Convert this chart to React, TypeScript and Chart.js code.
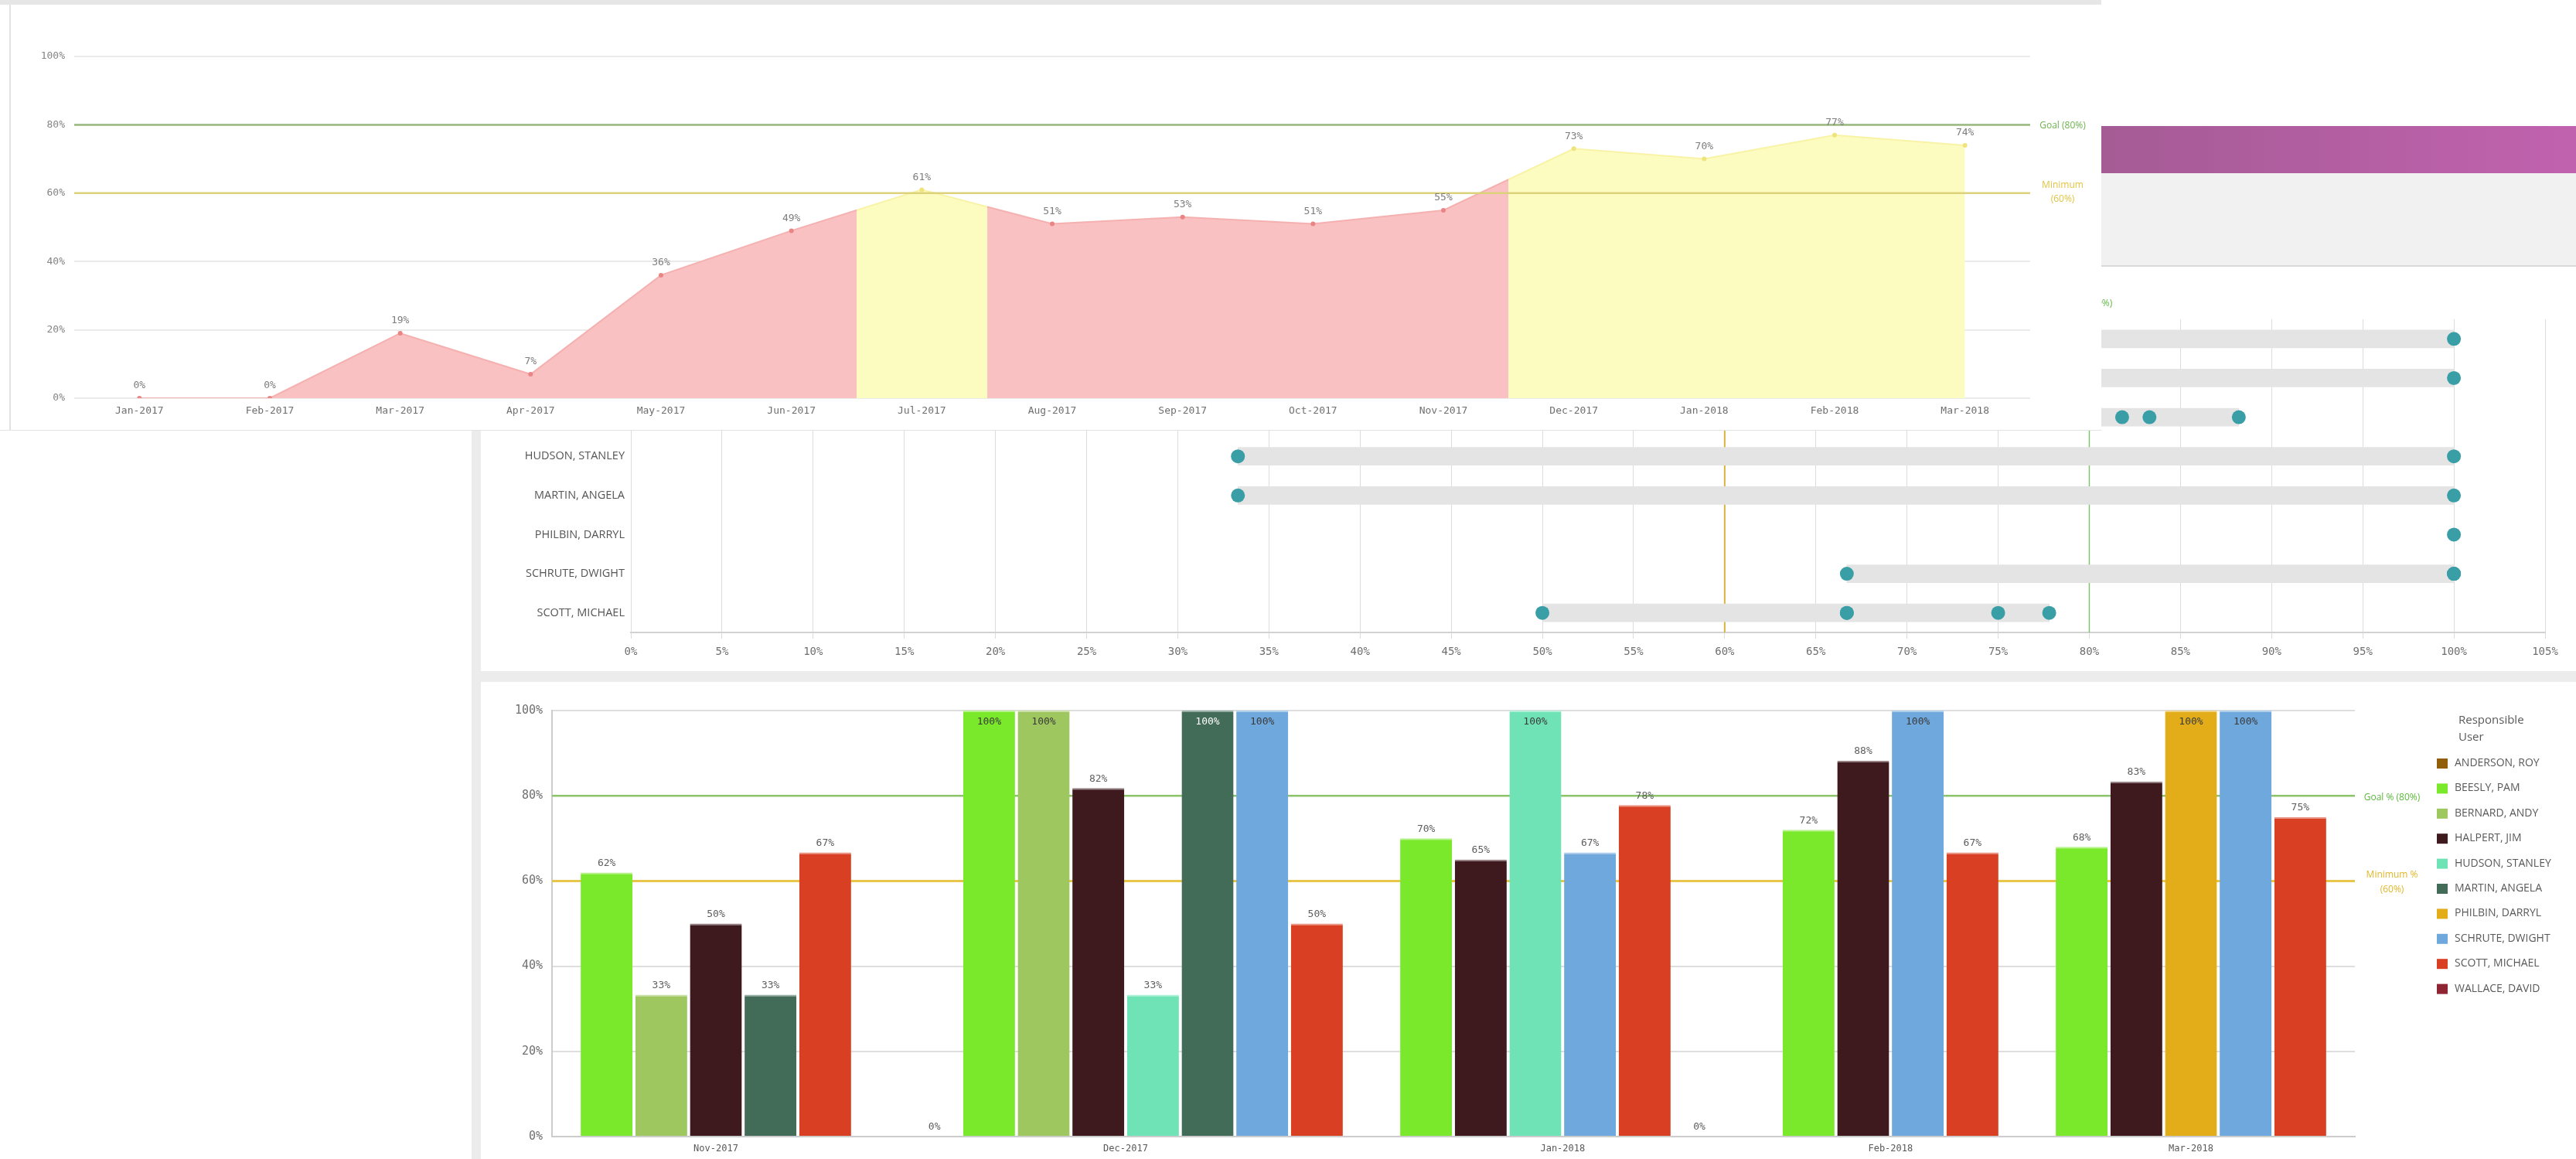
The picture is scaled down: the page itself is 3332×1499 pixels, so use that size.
import React, { useEffect, useRef } from 'react';
import { Chart, registerables } from 'chart.js';

Chart.register(...registerables);

const FONT = '"Open Sans", "Noto Sans", "DejaVu Sans", sans-serif';
const MONO = '"DejaVu Sans Mono", "Liberation Mono", monospace';
Chart.defaults.font.family = FONT;

// ---------- Panel A: monthly trend ----------
const trendMonths = ['Jan-2017', 'Feb-2017', 'Mar-2017', 'Apr-2017', 'May-2017', 'Jun-2017', 'Jul-2017', 'Aug-2017', 'Sep-2017', 'Oct-2017', 'Nov-2017', 'Dec-2017', 'Jan-2018', 'Feb-2018', 'Mar-2018'];
const trendValues = [0, 0, 19, 7, 36, 49, 61, 51, 53, 51, 55, 73, 70, 77, 74];
const GOAL_PCT = 80;
const MIN_PCT = 60;

// ---------- Panel C: per user per month ----------
const barMonths = ['Nov-2017', 'Dec-2017', 'Jan-2018', 'Feb-2018', 'Mar-2018'];
const userNames = ['ANDERSON, ROY', 'BEESLY, PAM', 'BERNARD, ANDY', 'HALPERT, JIM', 'HUDSON, STANLEY', 'MARTIN, ANGELA', 'PHILBIN, DARRYL', 'SCHRUTE, DWIGHT', 'SCOTT, MICHAEL', 'WALLACE, DAVID'];
const userColors = ['#915f0c', '#7ae82b', '#9fc75f', '#3e1a1f', '#70e3b6', '#426b58', '#e2ad19', '#6fa8dc', '#d93f22', '#8f2433'];
const andersonRoy = [null, 0, null, null, null];
const beeslyPam = [62, 100, 70, 72, 68];
const bernardAndy = [33.3, 100, null, null, null];
const halpertJim = [50, 81.8, 65, 88.2, 83.3];
const hudsonStanley = [null, 33.3, 100, null, null];
const martinAngela = [33.3, 100, null, null, null];
const philbinDarryl = [null, null, null, null, 100];
const schruteDwight = [null, 100, 66.7, 100, 100];
const scottMichael = [66.7, 50, 77.8, 66.7, 75];
const wallaceDavid = [null, null, 0, null, null];
const userSeries: (number | null)[][] = [andersonRoy, beeslyPam, bernardAndy, halpertJim, hudsonStanley, martinAngela, philbinDarryl, schruteDwight, scottMichael, wallaceDavid];

// ---------- Panel B: range per user ----------
const rangeUsers = ['BEESLY, PAM', 'BERNARD, ANDY', 'HALPERT, JIM', 'HUDSON, STANLEY', 'MARTIN, ANGELA', 'PHILBIN, DARRYL', 'SCHRUTE, DWIGHT', 'SCOTT, MICHAEL'];

function userValues(name: string): number[] {
  const s = userSeries[userNames.indexOf(name)];
  return s.filter((v) => v !== null) as number[];
}

function tint(hex: string, f: number) {
  const n = parseInt(hex.slice(1), 16);
  const r = (n >> 16) & 255, g = (n >> 8) & 255, b = n & 255;
  const m = (c: number) => Math.round(c + (255 - c) * f);
  return `rgb(${m(r)},${m(g)},${m(b)})`;
}
function isDark(hex: string) {
  const n = parseInt(hex.slice(1), 16);
  const r = (n >> 16) & 255, g = (n >> 8) & 255, b = n & 255;
  return 0.299 * r + 0.587 * g + 0.114 * b < 110;
}

function hLine(ctx: CanvasRenderingContext2D, x1: number, x2: number, y: number, color: string, w: number) {
  ctx.save();
  ctx.strokeStyle = color;
  ctx.lineWidth = w;
  ctx.beginPath();
  ctx.moveTo(x1, y);
  ctx.lineTo(x2, y);
  ctx.stroke();
  ctx.restore();
}
function vLine(ctx: CanvasRenderingContext2D, x: number, y1: number, y2: number, color: string, w: number) {
  ctx.save();
  ctx.strokeStyle = color;
  ctx.lineWidth = w;
  ctx.beginPath();
  ctx.moveTo(x, y1);
  ctx.lineTo(x, y2);
  ctx.stroke();
  ctx.restore();
}

// ---------- config builders ----------
function makeTrend(): any {
  const bandGradient = (ctx: any, pinkC: string, yellowC: string) => {
    const chart = ctx.chart;
    const area = chart.chartArea;
    const xs = chart.scales && chart.scales.x;
    if (!area || !xs) return pinkC;
    const w = area.right - area.left;
    const half = (xs.getPixelForValue(1) - xs.getPixelForValue(0)) / 2;
    const g = chart.ctx.createLinearGradient(area.left, 0, area.right, 0);
    const cl = (v: number) => Math.max(0, Math.min(1, v));
    trendValues.forEach((v, i) => {
      const c = v >= MIN_PCT ? yellowC : pinkC;
      const cx = xs.getPixelForValue(i);
      g.addColorStop(cl((cx - half - area.left) / w), c);
      g.addColorStop(cl((cx + half - area.left) / w), c);
    });
    return g;
  };
  const overlay = {
    id: 'trendOverlay',
    afterDatasetsDraw(chart: any) {
      const { ctx, chartArea, scales } = chart;
      const y = scales.y;
      const yg = y.getPixelForValue(GOAL_PCT);
      const ym = y.getPixelForValue(MIN_PCT);
      hLine(ctx, chartArea.left, chartArea.right, yg, '#98b97c', 2.5);
      hLine(ctx, chartArea.left, chartArea.right, ym, '#ddd27c', 2.5);
      ctx.save();
      ctx.font = `12px ${FONT}`;
      ctx.textAlign = 'center';
      ctx.textBaseline = 'middle';
      const lx = chartArea.right + 42;
      ctx.fillStyle = '#6db34f';
      ctx.fillText('Goal (80%)', lx, yg + 1);
      ctx.fillStyle = '#e2c443';
      ctx.fillText('Minimum', lx, ym - 10);
      ctx.fillText('(60%)', lx, ym + 8);
      ctx.font = `13px ${MONO}`;
      ctx.fillStyle = '#7d7d7d';
      const meta = chart.getDatasetMeta(0);
      meta.data.forEach((el: any, i: number) => {
        ctx.fillText(Math.round(trendValues[i]) + '%', el.x, el.y - 16);
      });
      ctx.restore();
    },
  };
  return {
    type: 'line',
    data: {
      labels: trendMonths,
      datasets: [
        {
          data: trendValues,
          fill: 'origin',
          tension: 0,
          backgroundColor: (c: any) => bandGradient(c, '#f9c1c1', '#fdfcc0'),
          borderColor: (c: any) => bandGradient(c, '#f5b0b0', '#f8f3a6'),
          borderWidth: 2,
          pointRadius: 3,
          pointBorderWidth: 0,
          pointBackgroundColor: trendValues.map((v) => (v >= MIN_PCT ? '#eee37c' : '#e98585')),
        },
      ],
    },
    options: {
      animation: false,
      responsive: false,
      layout: { padding: { top: 67, right: 92, left: 0, bottom: 0 } },
      plugins: { legend: { display: false }, tooltip: { enabled: false } },
      scales: {
        x: {
          type: 'category',
          offset: true,
          grid: { display: false, drawTicks: false },
          border: { display: false },
          ticks: { color: '#6f6f6f', font: { size: 13, family: MONO }, padding: 9, maxRotation: 0, autoSkip: false },
          afterFit: (s: any) => { s.height = 41; },
        },
        y: {
          min: 0,
          max: 100,
          z: 1,
          grid: { color: 'rgba(0,0,0,0.08)', lineWidth: 2, drawTicks: false },
          border: { display: false },
          ticks: { stepSize: 20, callback: (v: any) => v + '%', color: '#858585', font: { size: 13, family: MONO }, padding: 12 },
          afterFit: (s: any) => { s.width = 82; },
        },
      },
    },
    plugins: [overlay],
  };
}

function makeRange(): any {
  const ranges = rangeUsers.map((n) => {
    const v = userValues(n);
    return [Math.min(...v), Math.max(...v)];
  });
  const dots: { x: number; y: string }[] = [];
  rangeUsers.forEach((n) => userValues(n).forEach((v) => dots.push({ x: v, y: n })));
  const refLines = {
    id: 'rangeRef',
    beforeDatasetsDraw(chart: any) {
      const { ctx, chartArea, scales } = chart;
      const x = scales.x;
      const xm = x.getPixelForValue(MIN_PCT);
      const xg = x.getPixelForValue(GOAL_PCT);
      vLine(ctx, xm, chartArea.top, chartArea.bottom, '#d9b540', 2);
      vLine(ctx, xg, chartArea.top, chartArea.bottom, '#82c56f', 1.5);
      ctx.save();
      ctx.font = `12px ${FONT}`;
      ctx.textAlign = 'center';
      ctx.textBaseline = 'middle';
      ctx.fillStyle = '#e0b932';
      ctx.fillText('Minimum (60%)', xm, chartArea.top - 20);
      ctx.fillStyle = '#62b84a';
      ctx.fillText('Goal (80%)', xg, chartArea.top - 20);
      ctx.restore();
    },
  };
  return {
    type: 'bar',
    data: {
      labels: rangeUsers,
      datasets: [
        {
          type: 'line',
          data: dots,
          showLine: false,
          pointRadius: 9,
          pointBorderWidth: 0,
          pointBackgroundColor: '#3a9ea7',
          order: 0,
        },
        {
          type: 'bar',
          data: ranges,
          backgroundColor: '#e4e4e4',
          barThickness: 23,
          borderSkipped: false,
          borderWidth: 0,
          order: 1,
        },
      ],
    },
    options: {
      indexAxis: 'y',
      animation: false,
      responsive: false,
      layout: { padding: { top: 68, right: 40, left: 0, bottom: 0 } },
      plugins: { legend: { display: false }, tooltip: { enabled: false } },
      scales: {
        x: {
          type: 'linear',
          min: 0,
          max: 105,
          grid: { color: '#dcdcdc', lineWidth: 1, drawTicks: true, tickLength: 8 },
          border: { color: '#d2d2d2', width: 2 },
          ticks: { stepSize: 5, callback: (v: any) => v + '%', color: '#6f6f6f', font: { size: 14, family: MONO }, padding: 9, autoSkip: false, maxRotation: 0 },
          afterFit: (s: any) => { s.height = 50; },
        },
        y: {
          type: 'category',
          grid: { display: false, drawTicks: false },
          border: { display: false },
          ticks: { color: '#555555', font: { size: 14.5 }, padding: 8 },
          afterFit: (s: any) => { s.width = 194; },
        },
      },
    },
    plugins: [refLines],
  };
}

function makeBars(): any {
  const slots: { ui: number; x: number; v: number }[] = [];
  const centers: number[] = [];
  let pos = 0;
  barMonths.forEach((_, mi) => {
    const start = pos;
    userSeries.forEach((s, ui) => {
      const v = s[mi];
      if (v !== null) {
        slots.push({ ui, x: pos, v });
        pos++;
      }
    });
    centers.push((start + pos - 1) / 2);
    pos++;
  });
  const slotCount = pos - 1;

  const datasets = userNames.map((name, ui) => ({
    label: name,
    data: slots.filter((s) => s.ui === ui).map((s) => ({ x: s.x, y: s.v })),
    backgroundColor: userColors[ui],
    borderColor: tint(userColors[ui], 0.45),
    borderWidth: { top: 2, left: 0, right: 0, bottom: 0 },
    borderSkipped: false,
    grouped: false,
    barPercentage: 0.95,
    categoryPercentage: 1,
  }));

  const refLines = {
    id: 'barRef',
    beforeDatasetsDraw(chart: any) {
      const { ctx, chartArea, scales } = chart;
      const y = scales.y;
      const yg = y.getPixelForValue(GOAL_PCT);
      const ym = y.getPixelForValue(MIN_PCT);
      hLine(ctx, chartArea.left, chartArea.right, yg, '#8cc46b', 2.5);
      hLine(ctx, chartArea.left, chartArea.right, ym, '#e8c64a', 3);
      ctx.save();
      ctx.font = `12px ${FONT}`;
      ctx.textAlign = 'center';
      ctx.textBaseline = 'middle';
      const lx = chartArea.right + 48;
      ctx.fillStyle = '#5db83e';
      ctx.fillText('Goal % (80%)', lx, yg + 2);
      ctx.fillStyle = '#e0b72a';
      ctx.fillText('Minimum %', lx, ym - 8);
      ctx.fillText('(60%)', lx, ym + 11);
      ctx.restore();
    },
  };
  const labelsAndLegend = {
    id: 'barLabels',
    afterDatasetsDraw(chart: any) {
      const { ctx } = chart;
      ctx.save();
      ctx.font = `13px ${MONO}`;
      ctx.textAlign = 'center';
      ctx.textBaseline = 'middle';
      chart.data.datasets.forEach((ds: any, di: number) => {
        const meta = chart.getDatasetMeta(di);
        meta.data.forEach((el: any, i: number) => {
          const v = ds.data[i].y;
          const txt = Math.round(v) + '%';
          if (v >= 95) {
            ctx.fillStyle = isDark(userColors[di]) ? '#ffffff' : '#3a3a3a';
            ctx.fillText(txt, el.x, el.y + 15);
          } else {
            ctx.fillStyle = '#5e5e5e';
            ctx.fillText(txt, el.x, el.y - 12);
          }
        });
      });
      ctx.restore();
    },
    afterDraw(chart: any) {
      const { ctx, chartArea } = chart;
      ctx.save();
      const tx = chartArea.right + 134;
      ctx.fillStyle = '#595959';
      ctx.font = `15px ${FONT}`;
      ctx.textAlign = 'left';
      ctx.textBaseline = 'middle';
      ctx.fillText('Responsible', tx, 50);
      ctx.fillText('User', tx, 72);
      ctx.font = `14px ${FONT}`;
      chart.data.datasets.forEach((ds: any, i: number) => {
        const yy = 105 + i * 32.4;
        ctx.fillStyle = ds.backgroundColor;
        ctx.fillRect(chartArea.right + 106, yy - 6, 14, 13);
        ctx.fillStyle = '#595959';
        ctx.fillText(ds.label, chartArea.right + 129, yy);
      });
      ctx.restore();
    },
  };

  return {
    type: 'bar',
    data: { datasets },
    options: {
      animation: false,
      responsive: false,
      layout: { padding: { top: 37, right: 286, left: 0, bottom: 0 } },
      plugins: { legend: { display: false }, tooltip: { enabled: false } },
      scales: {
        x: {
          type: 'linear',
          min: -1,
          max: slotCount,
          offset: false,
          grid: { display: false, drawTicks: false },
          border: { color: '#cccccc', width: 2 },
          afterBuildTicks: (s: any) => {
            s.ticks = centers.map((c) => ({ value: c }));
          },
          ticks: {
            callback: (_v: any, i: number) => barMonths[i],
            color: '#595959',
            font: { size: 12, family: MONO },
            padding: 9,
            autoSkip: false,
            maxRotation: 0,
          },
          afterFit: (s: any) => { s.height = 29; },
        },
        y: {
          min: 0,
          max: 100,
          grid: { color: '#dedede', lineWidth: 2, drawTicks: false },
          border: { color: '#cccccc', width: 2 },
          ticks: { stepSize: 20, callback: (v: any) => v + '%', color: '#707070', font: { size: 15, family: MONO }, padding: 12 },
          afterFit: (s: any) => { s.width = 92; },
        },
      },
    },
    plugins: [refLines, labelsAndLegend],
  };
}

function ChartCanvas({ left, top, width, height, make }: { left: number; top: number; width: number; height: number; make: () => any }) {
  const ref = useRef<HTMLCanvasElement>(null);
  useEffect(() => {
    const chart = new Chart(ref.current as HTMLCanvasElement, make());
    return () => chart.destroy();
  }, []);
  return (
    <canvas
      ref={ref}
      width={width}
      height={height}
      style={{ position: 'absolute', left, top, width, height, display: 'block' }}
    />
  );
}

export default function App() {
  const abs = (l: number, t: number, w: number, h: number, extra: any = {}) => ({
    position: 'absolute' as const, left: l, top: t, width: w, height: h, ...extra,
  });
  return (
    <div style={{ position: 'fixed', left: 0, top: 0, width: 3332, height: 1499, background: '#ffffff', overflow: 'hidden', fontFamily: FONT }}>
      {/* dashboard frame for lower panels */}
      <div style={abs(610, 163, 2722, 1336, { background: '#ececec' })} />
      <div style={abs(622, 163, 2710, 61, { background: 'linear-gradient(90deg, #9a5590 0%, #a45b94 77%, #c162af 100%)' })} />
      <div style={abs(622, 224, 2710, 119, { background: '#f1f1f1', borderBottom: '2px solid #d9d9d9' })} />
      <div style={abs(622, 345, 2710, 523, { background: '#ffffff' })} />
      <ChartCanvas left={622} top={345} width={2710} height={523} make={makeRange} />
      <div style={abs(622, 882, 2710, 617, { background: '#ffffff' })} />
      <ChartCanvas left={622} top={882} width={2710} height={617} make={makeBars} />

      {/* top overlaid panel */}
      <div style={abs(0, 0, 2718, 557, { background: '#ffffff', borderBottom: '1px solid #e3e3e3', boxSizing: 'border-box' })} />
      <div style={abs(0, 0, 2718, 6, { background: '#e6e6e6' })} />
      <div style={abs(12, 6, 2, 551, { background: '#e2e2e2' })} />
      <ChartCanvas left={14} top={6} width={2704} height={550} make={makeTrend} />
    </div>
  );
}
